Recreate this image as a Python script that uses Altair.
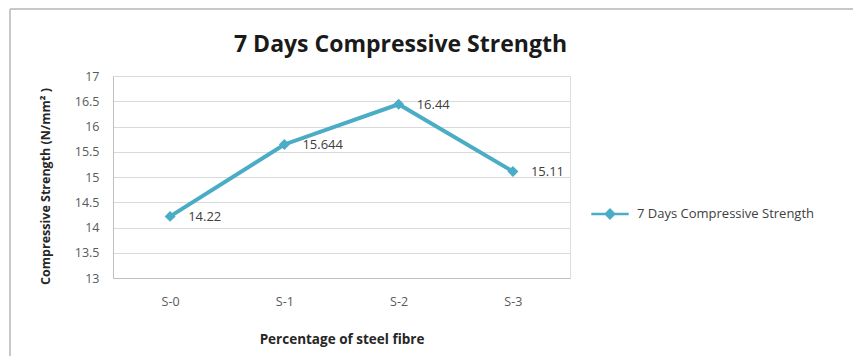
import altair as alt
import pandas as pd

categories = ["S-0", "S-1", "S-2", "S-3"]
values = [14.22, 15.644, 16.44, 15.11]
labels = ["14.22", "15.644", "16.44", "15.11"]
series_name = "7 Days Compressive Strength"
y_ticks = [13, 13.5, 14, 14.5, 15, 15.5, 16, 16.5, 17]

df = pd.DataFrame({"cat": categories, "val": values, "lab": labels,
                   "series": [series_name] * len(categories)})

COLOR = "#4BACC6"
FONT = "Open Sans"

x = alt.X("cat:N", sort=categories, title="Percentage of steel fibre",
          scale=alt.Scale(type="point", padding=0.5),
          axis=alt.Axis(labelAngle=0, ticks=False, domainColor="#bfbfbf",
                        labelColor="#595959", labelFontSize=12.5, labelFont=FONT,
                        labelPadding=17, titleFont=FONT, titleFontSize=13.5,
                        titleFontWeight="bold", titleColor="#262626", titlePadding=25,
                        grid=False))
y = alt.Y("val:Q", title="Compressive Strength (N/mm² )",
          scale=alt.Scale(domain=[13, 17], nice=False, zero=False),
          axis=alt.Axis(values=y_ticks, ticks=False, domainColor="#bfbfbf",
                        gridColor="#d9d9d9", labelColor="#595959", labelFontSize=12.5,
                        labelFont=FONT, labelPadding=14, format="~g", titleFont=FONT,
                        titleFontSize=12.5, titleFontWeight="bold",
                        titleColor="#262626", titlePadding=22, titleY=110))

color = alt.Color("series:N", scale=alt.Scale(range=[COLOR]),
                  legend=alt.Legend(title=None, orient="none", legendX=477,
                                    legendY=118, labelFont=FONT, labelFontSize=13,
                                    labelColor="#404040", labelOffset=7, labelLimit=400,
                                    symbolType="M-1,0L1,0M-0.22,0L0,-0.22L0.22,0L0,0.22Z",
                                    symbolSize=1400, symbolStrokeWidth=2.5,
                                    symbolFillColor=COLOR, symbolStrokeColor=COLOR))

base = alt.Chart(df)
one = base.transform_filter("datum.cat == 'S-0'")

frame_top = one.mark_rule(stroke="#c8c8c8", strokeWidth=2).encode(
    x=alt.value(-103), x2=alt.value(800), y=alt.value(-67))
frame_left = one.mark_rule(stroke="#c8c8c8", strokeWidth=2).encode(
    x=alt.value(-103), y=alt.value(-67), y2=alt.value(350))

line = base.mark_line(strokeWidth=4, color=COLOR).encode(x=x, y=y, color=color)
points = base.mark_point(shape="diamond", filled=True, size=120, opacity=1, color=COLOR).encode(
    x=x, y=y, color=alt.Color("series:N", scale=alt.Scale(range=[COLOR]), legend=None))
text = base.mark_text(align="left", baseline="middle", dx=18, dy=1, fontSize=13,
                      font=FONT, color="#404040").encode(x=x, y=y, text="lab:N")

chart = alt.layer(frame_top, frame_left, line, points, text).properties(
    width=457, height=202,
    title=alt.TitleParams("7 Days Compressive Strength", font=FONT, fontSize=23,
                          fontWeight="bold", color="#1a1a1a", anchor="middle",
                          frame="group", dx=59, offset=-49),
    autosize=alt.AutoSizeParams(type="none"),
    padding={"left": 113, "top": 76, "right": 283, "bottom": 78},
).configure_view(stroke=None).configure(background="white")

chart.save("out.html", embed_options={"renderer": "svg", "actions": False})
